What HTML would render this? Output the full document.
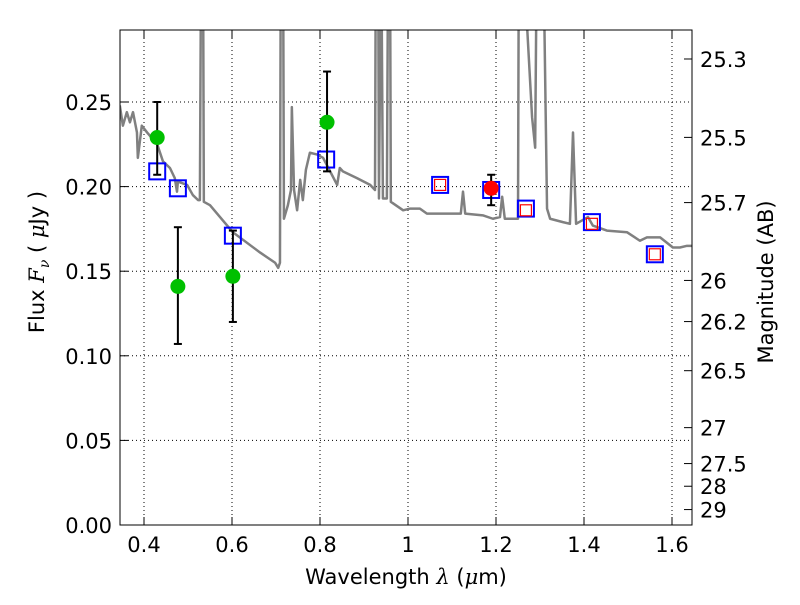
<!DOCTYPE html>
<html><head><meta charset="utf-8"><style>
body{margin:0;background:#fff;font-family:"Liberation Sans","DejaVu Sans",sans-serif}
svg text{font-family:"DejaVu Sans","Liberation Sans",sans-serif;font-size:21px;fill:#000}
</style></head><body>
<svg id="c" width="800" height="600">
<defs><clipPath id="cp"><rect x="120" y="30" width="572" height="495"/></clipPath></defs>
<rect x="0" y="0" width="800" height="600" fill="#fff"/>
<g id="grid"></g>
<g id="plot" clip-path="url(#cp)"></g>
<rect x="120" y="30" width="572" height="495" fill="none" stroke="#000" stroke-width="1"/>
<g id="axes"></g>
<text x="406" y="584" text-anchor="middle">Wavelength  <tspan font-style="italic" font-family="DejaVu Serif">λ</tspan> (<tspan font-style="italic" font-family="DejaVu Serif">μ</tspan>m)</text>
<text transform="translate(44,262) rotate(-90)" text-anchor="middle">Flux  <tspan font-style="italic" font-family="DejaVu Serif">F</tspan><tspan font-style="italic" font-family="DejaVu Serif" font-size="14" dy="5">ν</tspan><tspan dy="-5">  (  </tspan><tspan font-style="italic" font-family="DejaVu Serif">μ</tspan>Jy )</text>
<text transform="translate(773,282) rotate(-90)" text-anchor="middle">Magnitude (AB)</text>
</svg>
<script>
const specLam=[0.345,0.352,0.361,0.368,0.375,0.384,0.386,0.395,0.407,0.430,0.443,0.459,0.470,0.475,0.477,0.498,0.511,0.523,0.527,0.530,0.534,0.536,0.550,0.602,0.664,0.698,0.705,0.709,0.711,0.716,0.718,0.727,0.734,0.736,0.741,0.748,0.755,0.761,0.768,0.777,0.793,0.807,0.823,0.839,0.845,0.852,0.868,0.884,0.914,0.925,0.927,0.932,0.934,0.939,0.943,0.952,0.955,0.959,0.961,0.989,1.005,1.027,1.043,1.102,1.120,1.125,1.130,1.170,1.193,1.209,1.214,1.220,1.250,1.252,1.259,1.282,1.289,1.293,1.307,1.316,1.323,1.352,1.368,1.375,1.382,1.409,1.420,1.452,1.498,1.527,1.543,1.573,1.602,1.618,1.634,1.648];
const specFlux=[0.248,0.236,0.244,0.238,0.244,0.232,0.217,0.236,0.232,0.225,0.215,0.211,0.205,0.197,0.203,0.201,0.195,0.192,0.192,0.35,0.35,0.191,0.189,0.173,0.161,0.155,0.152,0.155,0.35,0.35,0.181,0.189,0.198,0.247,0.198,0.186,0.204,0.192,0.210,0.220,0.219,0.217,0.209,0.201,0.211,0.209,0.207,0.205,0.201,0.198,0.35,0.35,0.193,0.35,0.193,0.193,0.35,0.35,0.191,0.186,0.187,0.187,0.184,0.184,0.184,0.197,0.184,0.183,0.181,0.182,0.194,0.181,0.181,0.35,0.35,0.241,0.223,0.35,0.35,0.187,0.181,0.179,0.178,0.232,0.178,0.182,0.177,0.174,0.173,0.168,0.170,0.170,0.164,0.164,0.165,0.165];
const greenLam=[0.430,0.477,0.602,0.816];
const greenFlux=[0.229,0.141,0.147,0.238];
const greenHi=[0.250,0.176,0.174,0.268];
const greenLo=[0.207,0.107,0.120,0.209];
const redLam=[1.189];const redFlux=[0.199];const redHi=[0.207];const redLo=[0.189];
const blueLam=[0.430,0.477,0.602,0.814,1.073,1.189,1.268,1.418,1.561];
const blueFlux=[0.209,0.199,0.171,0.216,0.201,0.198,0.187,0.179,0.160];
const rsqLam=[1.073,1.268,1.418,1.561];
const rsqFlux=[0.201,0.186,0.178,0.160];
const xTicks=[0.4,0.6,0.8,1.0,1.2,1.4,1.6];
const xTickLabels=["0.4","0.6","0.8","1","1.2","1.4","1.6"];
const yTicks=[0,0.05,0.10,0.15,0.20,0.25];
const yTickLabels=["0.00","0.05","0.10","0.15","0.20","0.25"];
const magTicks=[25.3,25.5,25.7,26,26.2,26.5,27,27.5,28,29];
const magLabels=["25.3","25.5","25.7","26","26.2","26.5","27","27.5","28","29"];
const X=l=>144+(l-0.4)*440;
const Y=f=>525-f*1692;
const NS="http://www.w3.org/2000/svg";
function mk(tag,attrs,parent){const e=document.createElementNS(NS,tag);for(const k in attrs)e.setAttribute(k,attrs[k]);parent.appendChild(e);return e;}
const grid=document.getElementById('grid'),plot=document.getElementById('plot'),axes=document.getElementById('axes');
xTicks.forEach((t,i)=>{
 const g=mk('line',{x1:X(t),x2:X(t),y1:30,y2:525,stroke:'#000','stroke-width':1,'stroke-dasharray':'1,3'},grid);
 
 
 mk('line',{x1:X(t),x2:X(t),y1:525,y2:517,stroke:'#000'},axes);
 mk('line',{x1:X(t),x2:X(t),y1:30,y2:38,stroke:'#000'},axes);
 const tx=mk('text',{x:X(t),y:552,'text-anchor':'middle'},axes);tx.textContent=xTickLabels[i];
 
 
});
yTicks.forEach((t,i)=>{
 const g=mk('line',{x1:120,x2:692,y1:Y(t),y2:Y(t),stroke:'#000','stroke-width':1,'stroke-dasharray':'1,3'},grid);
 
 
 mk('line',{x1:120,x2:128,y1:Y(t),y2:Y(t),stroke:'#000'},axes);
 const tx=mk('text',{x:112,y:Y(t)+8,'text-anchor':'end'},axes);tx.textContent=yTickLabels[i];
 
 
});
magTicks.forEach((m,i)=>{
 const f=Math.pow(10,(23.9-m)/2.5);const y=Y(f);
 mk('line',{x1:684,x2:692,y1:y,y2:y,stroke:'#000'},axes);
 const tx=mk('text',{x:700,y:y+8,'text-anchor':'start'},axes);tx.textContent=magLabels[i];
 
 
});
const sp=mk('polyline',{points:specLam.map((l,i)=>X(l)+','+Y(specFlux[i])).join(' '),fill:'none',stroke:'#808080','stroke-width':2.5,'stroke-linejoin':'round'},plot);


function errbar(l,lo,hi,name){
 const x=X(l);
 const g=mk('g',{},plot);
 
 
 mk('line',{x1:x,x2:x,y1:Y(hi),y2:Y(lo),stroke:'#000','stroke-width':2},g);
 mk('line',{x1:x-4,x2:x+4,y1:Y(hi),y2:Y(hi),stroke:'#000','stroke-width':2},g);
 mk('line',{x1:x-4,x2:x+4,y1:Y(lo),y2:Y(lo),stroke:'#000','stroke-width':2},g);
}
blueLam.forEach((l,i)=>{
 const r=mk('rect',{x:X(l)-8,y:Y(blueFlux[i])-8,width:16,height:16,fill:'none',stroke:'#0000ff','stroke-width':2},plot);
 
 
});
rsqLam.forEach((l,i)=>{
 const r=mk('rect',{x:X(l)-5.5,y:Y(rsqFlux[i])-5.5,width:11,height:11,fill:'none',stroke:'#ff0000','stroke-width':1.2},plot);
 
 
});
greenLam.forEach((l,i)=>{
 errbar(l,greenLo[i],greenHi[i],'green-error-bar');
 const c=mk('circle',{cx:X(l),cy:Y(greenFlux[i]),r:7.5,fill:'#00c000'},plot);
 
 
});
redLam.forEach((l,i)=>{
 errbar(l,redLo[i],redHi[i],'red-error-bar');
 const c=mk('circle',{cx:X(l),cy:Y(redFlux[i]),r:7.5,fill:'#ff0000'},plot);
 
 
});
</script>
</body></html>
